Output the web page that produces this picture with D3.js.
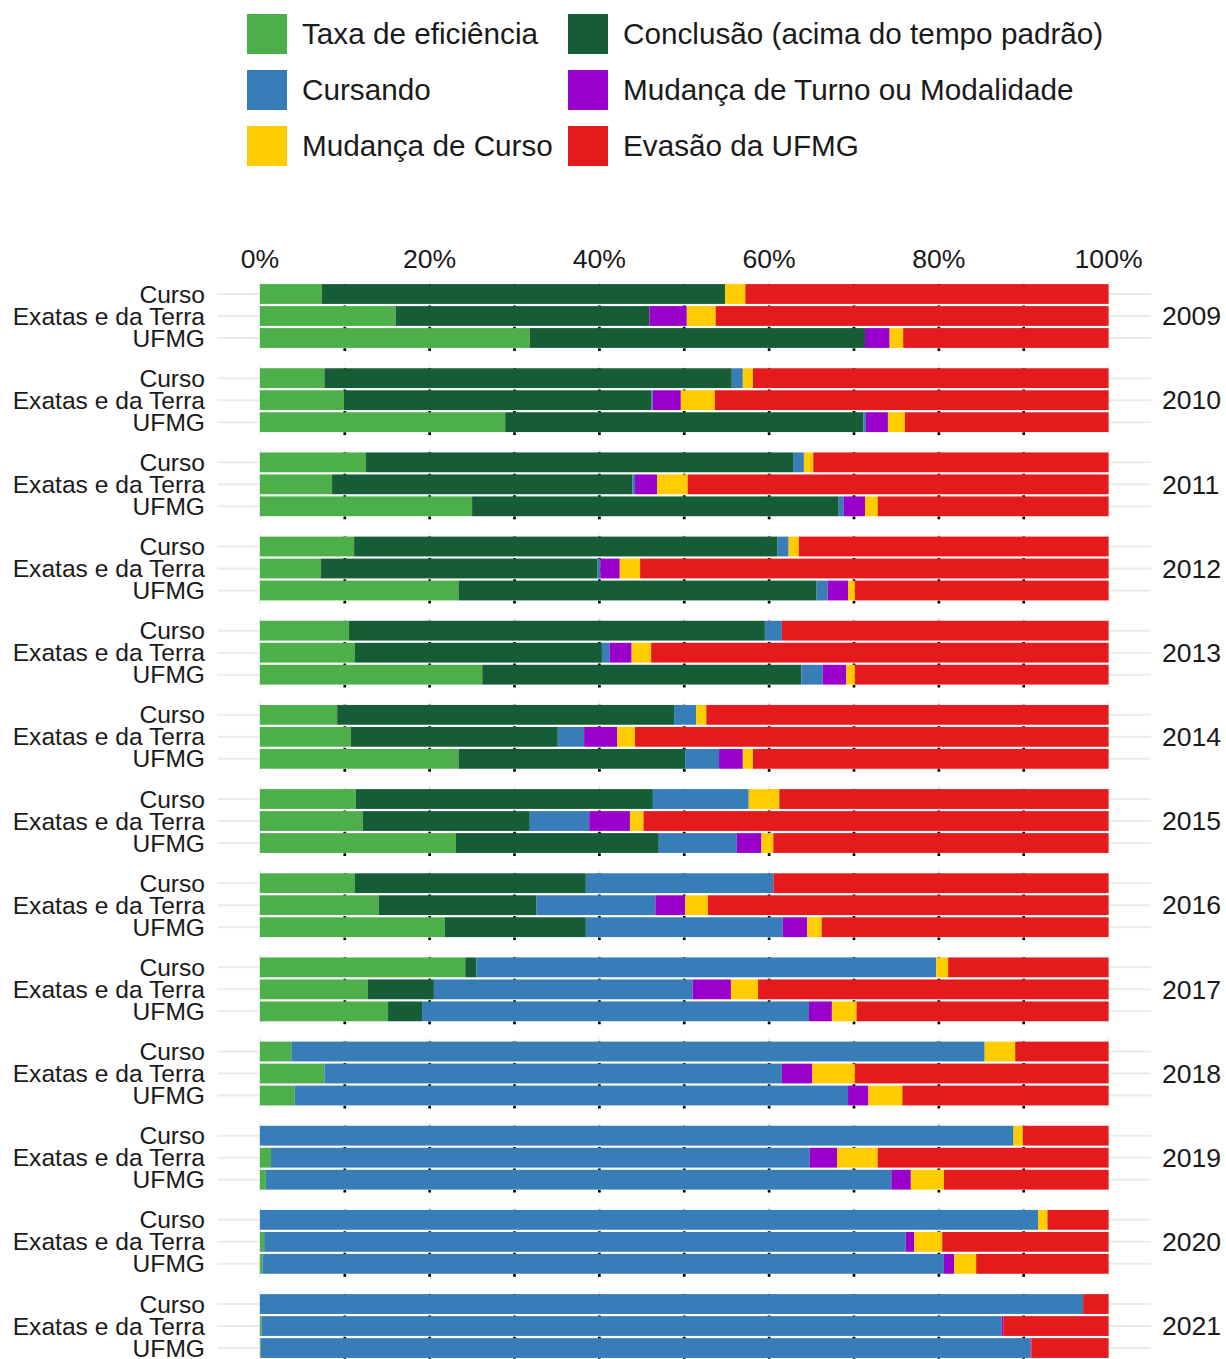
<!DOCTYPE html>
<html>
<head>
<meta charset="utf-8">
<script src="https://cdn.jsdelivr.net/npm/d3@7"></script>
<style>
  html, body { margin: 0; padding: 0; background: #fff; }
  svg { display: block; font-family: "Liberation Sans", Arial, Helvetica, sans-serif; }
</style>
</head>
<body>
<svg id="chart" width="1226" height="1359"></svg>
<script>
// Anos de ingresso (um painel por ano) e grupos comparados em cada painel
const years = [2009, 2010, 2011, 2012, 2013, 2014, 2015, 2016, 2017, 2018, 2019, 2020, 2021];
const groups = ["Curso", "Exatas e da Terra", "UFMG"];

// Situações (ordem de empilhamento) e cores
const categories = [
  "Taxa de eficiência",
  "Conclusão (acima do tempo padrão)",
  "Cursando",
  "Mudança de Turno ou Modalidade",
  "Mudança de Curso",
  "Evasão da UFMG"
];
const colors = ["#4daf4a", "#165c36", "#377eb8", "#9900cc", "#ffcc00", "#e41a1c"];

// Percentuais por situação; cada linha = um ano, valores na ordem Curso, Exatas e da Terra, UFMG
const eficiencia = [
  7.3, 16.0, 31.8,   // 2009
  7.6, 9.9, 28.9,    // 2010
  12.5, 8.5, 25.0,   // 2011
  11.1, 7.2, 23.4,   // 2012
  10.5, 11.2, 26.2,  // 2013
  9.1, 10.7, 23.4,   // 2014
  11.3, 12.1, 23.1,  // 2015
  11.2, 14.0, 21.8,  // 2016
  24.2, 12.7, 15.1,  // 2017
  3.7, 7.6, 4.1,     // 2018
  0, 1.3, 0.7,       // 2019
  0, 0.5, 0.3,       // 2020
  0, 0.2, 0.1        // 2021
];
const conclusaoAcima = [
  47.5, 29.9, 39.5,
  48.0, 36.2, 42.2,
  50.4, 35.4, 43.2,
  49.9, 32.6, 42.2,
  49.0, 29.1, 37.6,
  39.7, 24.4, 26.7,
  35.0, 19.7, 23.9,
  27.2, 18.6, 16.6,
  1.3, 7.8, 4.0,
  0, 0, 0,
  0, 0, 0,
  0, 0, 0,
  0, 0, 0
];
const cursando = [
  0, 0, 0,
  1.3, 0.2, 0.3,
  1.2, 0.3, 0.6,
  1.3, 0.3, 1.3,
  2.0, 0.9, 2.5,
  2.6, 3.1, 4.0,
  11.3, 7.0, 9.2,
  22.1, 14.0, 23.2,
  54.2, 30.5, 45.6,
  81.7, 53.9, 65.2,
  88.8, 63.5, 73.7,
  91.7, 75.6, 80.3,
  97.0, 87.2, 90.7
];
const mudancaTurno = [
  0, 4.4, 2.9,
  0, 3.3, 2.6,
  0, 2.6, 2.5,
  0, 2.3, 2.4,
  0, 2.6, 2.8,
  0, 3.9, 2.8,
  0, 4.8, 2.9,
  0, 3.5, 2.9,
  0, 4.5, 2.7,
  0, 3.6, 2.4,
  0, 3.2, 2.3,
  0, 1.0, 1.2,
  0, 0.2, 0.1
];
const mudancaCurso = [
  2.4, 3.4, 1.6,
  1.2, 4.0, 2.0,
  1.1, 3.6, 1.5,
  1.2, 2.4, 0.8,
  0, 2.3, 1.0,
  1.2, 2.1, 1.2,
  3.6, 1.6, 1.4,
  0, 2.7, 1.7,
  1.4, 3.2, 2.9,
  3.6, 5.0, 4.0,
  1.1, 4.8, 3.9,
  1.1, 3.3, 2.6,
  0, 0, 0
];
const evasao = [
  42.8, 46.3, 24.2,
  41.9, 46.4, 24.0,
  34.8, 49.6, 27.2,
  36.5, 55.2, 29.9,
  38.5, 53.9, 29.9,
  47.4, 55.8, 41.9,
  38.8, 54.8, 39.5,
  39.5, 47.2, 33.8,
  18.9, 41.3, 29.7,
  11.0, 29.9, 24.3,
  10.1, 27.2, 19.4,
  7.2, 19.6, 15.6,
  3.0, 12.4, 9.1
];
const xTicks = [0, 20, 40, 60, 80, 100];
const dottedRefs = [10, 20, 30, 40, 50, 60, 70, 80, 90];

// ---- tabela longa: uma linha por (ano, grupo) ----
const series = [eficiencia, conclusaoAcima, cursando, mudancaTurno, mudancaCurso, evasao];
const rows = [];
years.forEach((yr, i) => {
  groups.forEach((g, j) => {
    const r = { year: yr, group: g };
    categories.forEach((c, k) => { r[c] = series[k][i * groups.length + j]; });
    rows.push(r);
  });
});
const stacked = d3.stack().keys(categories)(rows);

// ---- escalas ----
const svg = d3.select("#chart");
const panelLeft = 217.5, panelRight = 1151;
const x = d3.scaleLinear().domain([-5, 105]).range([panelLeft, panelRight]);

const facetStep = 84.17, panelH = 70.4;
const facet = d3.scaleBand().domain(years)
  .range([280.8, 280.8 + facetStep * years.length - (facetStep - panelH)])
  .paddingInner((facetStep - panelH) / facetStep).paddingOuter(0);
const yInner = d3.scaleBand().domain(groups).range([0, panelH])
  .paddingInner(0.1).paddingOuter(0.15);

const color = d3.scaleOrdinal().domain(categories).range(colors);
const gridColor = "#ebebeb";

// ---- painéis ----
const panels = svg.append("g").selectAll("g.panel").data(years).join("g")
  .attr("class", "panel")
  .attr("transform", d => `translate(0,${facet(d)})`);

// grade menor e maior (vertical) e linhas horizontais por grupo
panels.each(function () {
  const p = d3.select(this);
  p.selectAll("line.vminor").data([10, 30, 50, 70, 90]).join("line")
    .attr("x1", d => x(d)).attr("x2", d => x(d))
    .attr("y1", 0).attr("y2", panelH)
    .attr("stroke", gridColor).attr("stroke-width", 0.8);
  p.selectAll("line.vmajor").data(xTicks).join("line")
    .attr("x1", d => x(d)).attr("x2", d => x(d))
    .attr("y1", 0).attr("y2", panelH)
    .attr("stroke", gridColor).attr("stroke-width", 1.6);
  p.selectAll("line.h").data(groups).join("line")
    .attr("x1", panelLeft).attr("x2", panelRight)
    .attr("y1", d => yInner(d) + yInner.bandwidth() / 2)
    .attr("y2", d => yInner(d) + yInner.bandwidth() / 2)
    .attr("stroke", gridColor).attr("stroke-width", 2);
});

// barras empilhadas
stacked.forEach(layer => {
  const key = layer.key;
  layer.forEach(seg => {
    const d = seg.data;
    const w = x(seg[1]) - x(seg[0]);
    if (w <= 0) return;
    svg.append("rect")
      .attr("x", x(seg[0]))
      .attr("y", facet(d.year) + yInner(d.group))
      .attr("width", w)
      .attr("height", yInner.bandwidth())
      .attr("fill", color(key));
  });
});

// linhas pontilhadas de referência (sobre as barras)
panels.each(function () {
  d3.select(this).selectAll("line.dot").data(dottedRefs).join("line")
    .attr("x1", d => x(d)).attr("x2", d => x(d))
    .attr("y1", 3.2).attr("y2", panelH)
    .attr("stroke", "#000").attr("stroke-width", 2.7)
    .attr("stroke-dasharray", "2.7 8");
});

// rótulos dos grupos (eixo y) e faixas com o ano à direita
panels.each(function (yr) {
  const p = d3.select(this);
  p.selectAll("text.grp").data(groups).join("text")
    .attr("x", 205)
    .attr("y", d => yInner(d) + yInner.bandwidth() / 2)
    .attr("dy", "0.35em")
    .attr("text-anchor", "end")
    .attr("font-size", 24.6)
    .attr("fill", "#1a1a1a")
    .text(d => d);
  p.append("text")
    .attr("x", 1162)
    .attr("y", yInner(groups[1]) + yInner.bandwidth() / 2)
    .attr("dy", "0.35em")
    .attr("font-size", 26.6)
    .attr("fill", "#1a1a1a")
    .text(yr);
});

// eixo x no topo
const xAxis = svg.append("g").attr("transform", "translate(0,268)");
xAxis.selectAll("text").data(xTicks).join("text")
  .attr("x", d => x(d))
  .attr("text-anchor", "middle")
  .attr("font-size", 26.6)
  .attr("fill", "#1a1a1a")
  .text(d => d + "%");

// legenda (2 colunas, preenchida por linha)
const legend = svg.append("g");
const legendCols = [247, 568];
categories.forEach((c, k) => {
  const col = k % 2, row = Math.floor(k / 2);
  const lx = legendCols[col], ly = 14 + row * 56;
  legend.append("rect")
    .attr("x", lx).attr("y", ly).attr("width", 40).attr("height", 40)
    .attr("fill", color(c));
  legend.append("text")
    .attr("x", lx + 55).attr("y", ly + 20).attr("dy", "0.35em")
    .attr("font-size", 29.7)
    .attr("fill", "#1a1a1a")
    .text(c);
});
</script>
</body>
</html>
